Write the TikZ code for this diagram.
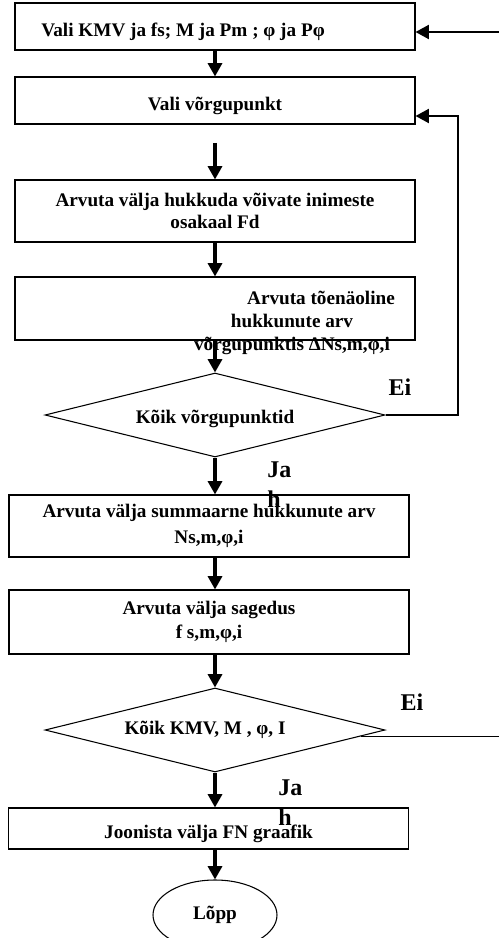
\documentclass[tikz,border=0pt]{standalone}
\usepackage{fontspec}
\setmainfont{Liberation Serif}
\usetikzlibrary{shapes.geometric,arrows.meta,calc}

\begin{document}
\begin{tikzpicture}[x=0.75pt,y=-0.75pt,
    box/.style={draw,line width=0.8pt,minimum width=300pt,minimum height=35.25pt,
      inner sep=0pt,align=center,font=\fontsize{14.4}{16.5}\selectfont\bfseries,
      execute at begin node={\rule{0pt}{18pt}}},
    dec/.style={draw,diamond,shape aspect=4,line width=0.8pt,minimum width=255pt,minimum height=63pt,
      inner sep=0pt,font=\fontsize{14.4}{16.5}\selectfont\bfseries},
    txt/.style={inner sep=0pt,align=center,font=\fontsize{14.4}{17}\selectfont\bfseries},
    lab/.style={inner sep=0pt,align=left,font=\fontsize{18}{22}\selectfont\bfseries},
    arr/.style={line width=2.4pt,-{Triangle[length=10pt,width=10.5pt]}}]
    \useasboundingbox (0,0) rectangle (499,938);
    \node[box] (b_1) at (215,26.5) {Vali KMV ja fs; M ja Pm ; φ ja Pφ\hspace*{48pt}};
    \node[box] (b_2) at (215,100.5) {Vali võrgupunkt};
    \node[box,minimum height=46.5pt] (b_3) at (215,211) {Arvuta välja hukkuda võivate inimeste\\osakaal Fd};
    \node[box,minimum height=47.25pt] (b_4) at (215,308.5) {};
    \node[txt] (t_4) at (292,323) {\hspace*{43.5pt}Arvuta tõenäoline\\hukkunute arv\\võrgupunktis ΔNs,m,φ,i};
    \node[dec] (d_1) at (215,415) {\rule{0pt}{16pt}Kõik võrgupunktid};
    \node[box,minimum height=46.5pt,font=\fontsize{14.4}{19}\selectfont\bfseries] (b_5) at (209,526) {Arvuta välja summaarne hukkunute arv\\Ns,m,φ,i};
    \node[box,minimum height=48pt,font=\fontsize{14.4}{18}\selectfont\bfseries] (b_6) at (209,622) {Arvuta välja sagedus\\f s,m,φ,i};
    \node[dec] (d_2) at (215,730) {Kõik KMV, M , φ, I\hspace*{15pt}};
    \node[box,minimum height=30.75pt] (b_7) at (208.5,828.5) {Joonista välja FN graafik};
    \node[draw,ellipse,line width=0.8pt,minimum width=93pt,minimum height=52.5pt,
      font=\fontsize{14.4}{16.5}\selectfont\bfseries] (end) at (215,915) {Lõpp};
    \node[lab] (ei_1) at (400,387) {Ei};
    \node[lab] (ei_2) at (412,702) {Ei};
    \node[lab,anchor=north west] (ja_1) at (267,462) {Ja\\h};
    \node[lab,anchor=north west] (ja_2) at (278,780) {Ja\\h};
    \coordinate (s_2) at (215,143);
    \coordinate (c_1) at (458,116);
    \coordinate (c_2) at (499,737);
    \coordinate (c_3) at (499,32);
    \path[arr]
    (b_1) edge (b_2)
    (s_2) edge (b_3)
    (b_3) edge (b_4)
    (b_4) edge (d_1)
    (d_1) edge (d_1.south |- b_5.north)
    (d_1.south |- b_5.south) edge (d_1.south |- b_6.north)
    (d_1.south |- b_6.south) edge (d_2)
    (d_2) edge (d_2.south |- b_7.north)
    (d_2.south |- b_7.south) edge (end);
    \draw[line width=1.5pt,-{Triangle[length=10pt,width=10.5pt]}] (d_1.east) -| (c_1) -- (c_1 -| b_2.east);
    \draw[line width=1.5pt,-{Triangle[length=10pt,width=10.5pt]}] (c_3) -- (c_3 -| b_1.east);
    \draw[line width=0.8pt] ($(d_2.east)!0.29!(d_2.south east)$) coordinate (p_2) -- (p_2 -| c_2);
\end{tikzpicture}
\end{document}
